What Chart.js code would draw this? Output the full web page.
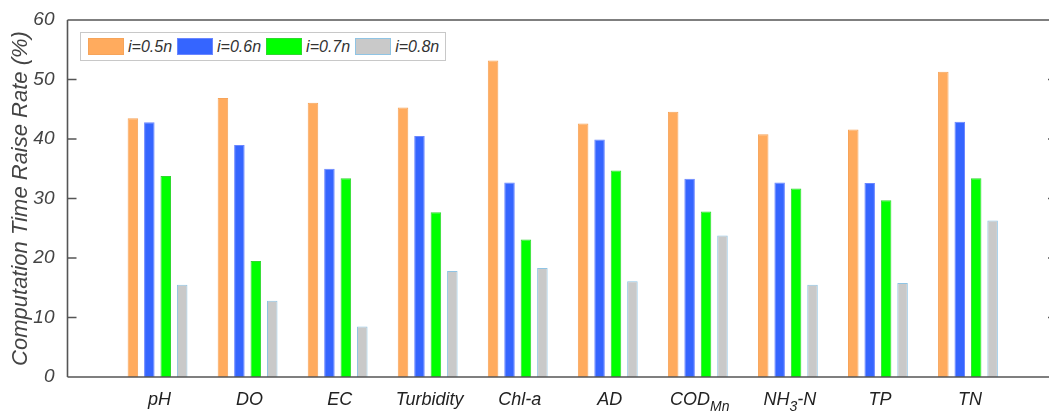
<!DOCTYPE html>
<html>
<head>
<meta charset="utf-8">
<script src="https://cdn.jsdelivr.net/npm/chart.js@4/dist/chart.umd.min.js"></script>
<style>
  html, body { margin: 0; padding: 0; background: #fff; overflow: hidden; }
  #wrap { position: relative; width: 1060px; height: 414px; }
  #legend {
    position: absolute; left: 80px; top: 32px; height: 27px;
    border: 1px solid #c8c8c8; background: #fff;
    display: flex; align-items: center; padding: 0 6px 0 7px;
    font-family: "Liberation Sans", Arial, sans-serif; font-style: italic;
    font-size: 16px; color: #333;
  }
  #legend .sw { width: 36px; height: 17px; box-sizing: border-box; border: 1px solid; margin-right: 4px; }
  #legend .lb { margin-right: 5px; }
  #legend .lb:last-child { margin-right: 0; }
</style>
</head>
<body>
<div id="wrap">
  <canvas id="chart"></canvas>
  <div id="legend"></div>
</div>
<script>
// categories (_{..} = subscript)
const categories = ['pH', 'DO', 'EC', 'Turbidity', 'Chl-a', 'AD', 'COD_{Mn}', 'NH_{3}-N', 'TP', 'TN'];
const seriesNames = ['i=0.5n', 'i=0.6n', 'i=0.7n', 'i=0.8n'];

// values (%)
const rate05 = [43.5, 46.9, 46.1, 45.3, 53.2, 42.6, 44.6, 40.8, 41.6, 51.3];
const rate06 = [42.8, 39.0, 35.0, 40.5, 32.7, 39.9, 33.3, 32.7, 32.6, 42.9];
const rate07 = [33.8, 19.5, 33.4, 27.7, 23.1, 34.7, 27.8, 31.7, 29.7, 33.4];
const rate08 = [15.5, 12.8, 8.5, 17.8, 18.3, 16.1, 23.8, 15.5, 15.8, 26.3];

const yTicks = [0, 10, 20, 30, 40, 50, 60];

const fills = ['#ffab5e', '#3565ff', '#00ff00', '#c9c9c9'];
const borders = ['#f6a45a', '#6a86ff', '#2fd82f', '#8fc4e4'];

const FONT = '"Liberation Sans", Arial, sans-serif';
const axisColor = '#555555';

const allSeries = [rate05, rate06, rate07, rate08];
const datasets = allSeries.map((vals, s) => ({
    label: seriesNames[s],
    data: vals.map((v, i) => ({ x: i + 1, y: v })),
    backgroundColor: fills[s],
    borderColor: borders[s],
    borderWidth: 1,
    categoryPercentage: 0.73,
    barPercentage: 0.64
}));

// frame, inward ticks and category labels with subscripts
const framePlugin = {
    id: 'frame',
    afterDraw(chart) {
        const ctx = chart.ctx;
        const a = chart.chartArea;
        const y = chart.scales.y;
        const x = chart.scales.x;
        ctx.save();
        ctx.strokeStyle = axisColor;
        ctx.lineWidth = 1.6;
        ctx.beginPath();
        ctx.moveTo(a.left, a.top); ctx.lineTo(a.right, a.top);
        ctx.moveTo(a.left, a.top); ctx.lineTo(a.left, a.bottom);
        ctx.moveTo(a.left, a.bottom); ctx.lineTo(a.right, a.bottom);
        ctx.moveTo(a.right, a.top); ctx.lineTo(a.right, a.bottom);
        yTicks.forEach(t => {
            const py = y.getPixelForValue(t);
            ctx.moveTo(a.left, py); ctx.lineTo(a.left + 9, py);
            ctx.moveTo(a.right, py); ctx.lineTo(a.right - 10, py);
        });
        ctx.stroke();

        ctx.fillStyle = '#222';
        ctx.textBaseline = 'alphabetic';
        ctx.textAlign = 'left';
        const mainFont = 'italic 18px ' + FONT;
        const subFont = 'italic 14px ' + FONT;
        categories.forEach((c, i) => {
            const parts = [];
            const re = /_\{([^}]*)\}/g;
            let last = 0, m;
            while ((m = re.exec(c)) !== null) {
                if (m.index > last) parts.push({ t: c.slice(last, m.index), sub: false });
                parts.push({ t: m[1], sub: true });
                last = re.lastIndex;
            }
            if (last < c.length) parts.push({ t: c.slice(last), sub: false });
            let w = 0;
            parts.forEach(p => { ctx.font = p.sub ? subFont : mainFont; p.w = ctx.measureText(p.t).width; w += p.w; });
            let px = x.getPixelForValue(i + 1) - w / 2 + 2;
            parts.forEach(p => {
                ctx.font = p.sub ? subFont : mainFont;
                ctx.fillText(p.t, px, p.sub ? 411 : 405);
                px += p.w;
            });
        });
        ctx.restore();
    }
};

const chart = new Chart(document.getElementById('chart'), {
    type: 'bar',
    data: { datasets: datasets },
    options: {
        responsive: true,
        maintainAspectRatio: false,
        animation: false,
        layout: { padding: { top: 20, right: 2, left: 0, bottom: 0 } },
        plugins: {
            legend: { display: false },
            tooltip: { enabled: false }
        },
        scales: {
            x: {
                type: 'linear',
                min: 0,
                max: 11,
                offset: false,
                grid: { display: false },
                border: { display: false },
                ticks: { display: false },
                afterFit(scale) { scale.height = 37; }
            },
            y: {
                min: 0,
                max: 60,
                grid: { display: false },
                border: { display: false },
                afterBuildTicks(scale) { scale.ticks = yTicks.map(v => ({ value: v })); },
                ticks: {
                    padding: 5,
                    color: '#444',
                    font: { family: FONT, size: 19, style: 'italic' }
                },
                title: {
                    display: true,
                    text: 'Computation Time Raise Rate (%)',
                    color: '#444',
                    padding: { top: 8, bottom: 0 },
                    font: { family: FONT, size: 22, style: 'italic', weight: 'normal' }
                },
                afterFit(scale) { scale.width = 67.5; }
            }
        }
    },
    plugins: [framePlugin]
});

// HTML legend built from the datasets
const legendEl = document.getElementById('legend');
chart.data.datasets.forEach(ds => {
    const sw = document.createElement('span');
    sw.className = 'sw';
    sw.style.background = ds.backgroundColor;
    sw.style.borderColor = ds.borderColor;
    const lb = document.createElement('span');
    lb.className = 'lb';
    lb.textContent = ds.label;
    legendEl.appendChild(sw);
    legendEl.appendChild(lb);
});
</script>
</body>
</html>
